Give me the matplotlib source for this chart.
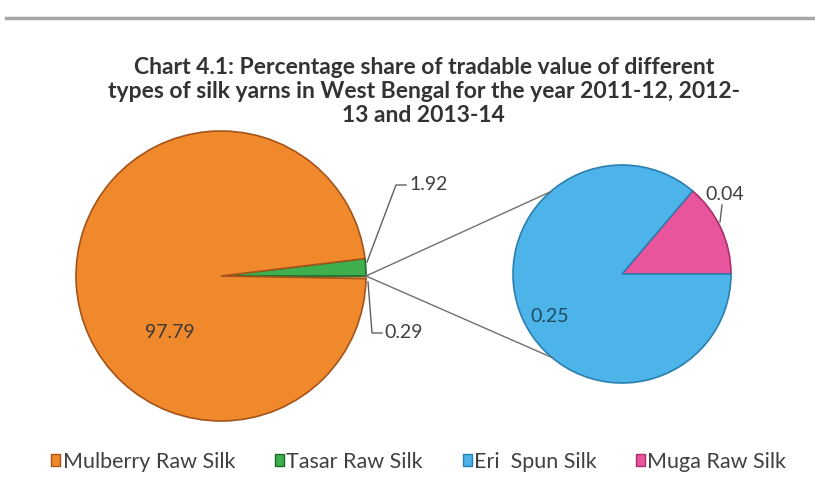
import matplotlib.pyplot as plt
import numpy as np
from matplotlib.patches import Patch
from matplotlib.lines import Line2D

# data
categories = ['Mulberry Raw Silk', 'Tasar Raw Silk', 'Eri  Spun Silk', 'Muga Raw Silk']
main_values = [97.79, 1.92]        # Mulberry, Tasar
other_total = 0.29                 # split into the second pie
other_values = [0.04, 0.25]        # Muga, Eri
title = ('Chart 4.1: Percentage share of tradable value of different\n'
         'types of silk yarns in West Bengal for the year 2011-12, 2012-\n'
         '13 and 2013-14')

c_mul, c_tas, c_eri, c_mug = '#F0892C', '#3FAE4C', '#4DB4EA', '#E9559C'
c_oth = '#F3B27A'
txt_c = '#404040'

plt.rcParams['font.family'] = ['Lato', 'DejaVu Sans']

fig = plt.figure(figsize=(8.15, 4.93), dpi=100)
ax = fig.add_axes([0, 0, 1, 1])

# left pie
lc, lr = (221, 217), 145
left_vals = [other_total, main_values[1], main_values[0]]
start = -other_total / sum(left_vals) * 360
wl, _ = ax.pie(left_vals, colors=[c_oth, c_tas, c_mul], startangle=start,
               center=lc, radius=lr, counterclock=True,
               wedgeprops=dict(linewidth=1.2))
for w, ec in zip(wl, ['#B07A50', '#1E6B28', '#A4531B']):
    w.set_edgecolor(ec)

# right pie
rc, rr = (622, 219), 109
wr, _ = ax.pie(other_values, colors=[c_mug, c_eri], startangle=0,
               center=rc, radius=rr, counterclock=True,
               wedgeprops=dict(linewidth=1.2))
for w, ec in zip(wr, ['#A8306A', '#2A7FB0']):
    w.set_edgecolor(ec)

# connector lines from the split point to the second pie
apex = np.array(lc) + np.array([lr, 0])
for ang in [131, -130]:
    a = np.deg2rad(ang)
    end = np.array(rc) + rr * np.array([np.cos(a), np.sin(a)])
    ax.plot([apex[0], end[0]], [apex[1], end[1]], color='#707070', lw=1)

# data labels
ax.text(170, 160, f'{main_values[0]:.2f}', ha='center', va='center', fontsize=14,
        color='#3A3A3A')
ax.plot([367, 396, 406], [231, 308, 308], color='#606060', lw=1)
ax.text(409, 309, f'{main_values[1]:.2f}', ha='left', va='center', fontsize=14, color=txt_c)
ax.plot([368, 372, 382], [211, 160, 160], color='#606060', lw=1)
ax.text(384, 161, f'{other_total:.2f}', ha='left', va='center', fontsize=14, color=txt_c)
ax.plot([720, 722], [271, 288], color='#606060', lw=1)
ax.text(725, 299, f'{other_values[0]:.2f}', ha='center', va='center', fontsize=14, color=txt_c)
ax.text(550, 176, f'{other_values[1]:.2f}', ha='center', va='center', fontsize=14,
        color='#1F4A66')

ax.set_xlim(0, 815)
ax.set_ylim(0, 493)
ax.set_aspect('equal')
ax.axis('off')

fig.text(0.52, 1 - 57 / 493, title, ha='center', va='top', fontsize=16.5,
         fontweight='bold', color='#333333', linespacing=1.17)

# top rule
fig.add_artist(Line2D([6 / 815, 1], [1 - 18 / 493] * 2, color='#A6A6A6', lw=2.5))

handles = [Patch(facecolor=c, edgecolor=e) for c, e in
           zip([c_mul, c_tas, c_eri, c_mug], ['#A4531B', '#1E6B28', '#2A7FB0', '#A8306A'])]
fig.legend(handles, categories, loc='center', bbox_to_anchor=(0.514, 1 - 462 / 493),
           ncol=4, frameon=False, fontsize=15.5, handlelength=0.42, handleheight=0.5,
           handletextpad=0.1, columnspacing=1.85, labelcolor=txt_c)

fig.savefig('out.png', dpi=100, facecolor='white')
